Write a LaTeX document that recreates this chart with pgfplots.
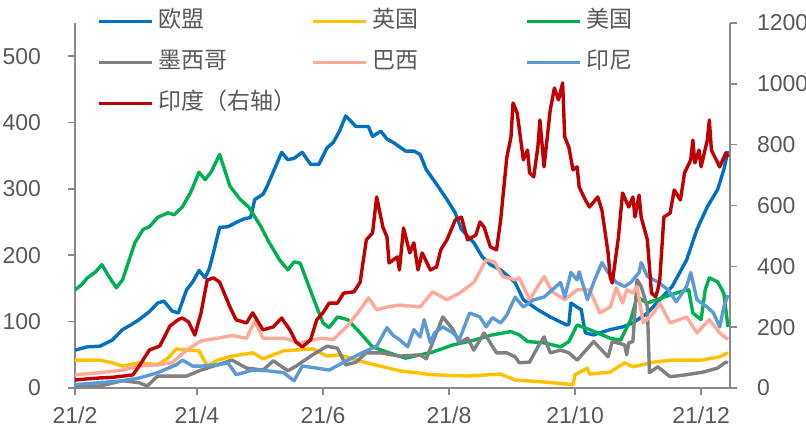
\documentclass[border=0pt]{standalone}
\usepackage{fontspec}
\setmainfont{Liberation Sans}
\newfontfamily\cjk{Noto Sans CJK SC}
\usepackage{pgfplots}
\pgfplotsset{compat=1.18}
\definecolor{eu}{HTML}{0070C0}
\definecolor{uk}{HTML}{FFC000}
\definecolor{us}{HTML}{00B050}
\definecolor{mx}{HTML}{808080}
\definecolor{br}{HTML}{FFAA99}
\definecolor{idn}{HTML}{5B9BD5}
\definecolor{ind}{HTML}{C00000}
\definecolor{axgray}{HTML}{898989}
\definecolor{txt}{HTML}{595959}
\pgfplotsset{
  base/.style={
    scale only axis, width=327.5pt, height=182.5pt,
    xmin=0, xmax=317, ymin=0,
    tick align=outside, major tick length=3.5pt,
    every tick/.style={axgray, line width=0.8pt},
    axis line style={axgray, line width=0.8pt},
    tick label style={font=\fontsize{11.5}{13}\selectfont, text=txt},
    /pgf/number format/assume math mode=true,
    /pgf/number format/1000 sep={},
  },
  ser/.style={line width=1.7pt, line join=round, mark=none},
}
\begin{document}
\begin{tikzpicture}
\begin{axis}[base, ymax=550, ytick={0,100,...,500},
  axis y line*=left, axis x line*=bottom,
  xtick={0,59,120,181,242,303},
  xticklabels={21/2,21/4,21/6,21/8,21/10,21/12},
  xticklabel style={yshift=-2.5pt},
  yticklabel style={xshift=-10pt},
  legend columns=3,
  legend cell align=left,
  legend image code/.code={\draw[#1] (0pt,0pt) -- (26.5pt,0pt);},
  legend style={draw=none, fill=none, at={(0,1)}, anchor=north west,
    xshift=11pt, yshift=6.75pt, inner xsep=0pt, inner ysep=0pt,
    row sep=9pt,
    font=\cjk\fontsize{11.5}{13}\selectfont, text=txt,
    nodes={inner sep=0pt, text height=9pt, text depth=2.5pt},
    /tikz/every odd column/.append style={column sep=2.5pt},
    /tikz/every even column/.append style={column sep=6.3pt}},
]
\addplot[ser, eu] coordinates {(0,57)(6,62)(12,63)(18,72)(23,88)(27,95)(31,103)(36,115)(40,128)(43,131)(47,116)(50,113)(54,148)(57,160)(60,177)(63,166)(65,180)(67,204)(70,242)(74,243)(79,251)(82,255)(85,257)(87,284)(91,292)(93,304)(96,326)(100,355)(103,344)(106,346)(110,355)(114,337)(118,337)(122,362)(125,370)(128,387)(131,410)(136,394)(142,394)(144,379)(148,387)(151,375)(154,370)(160,357)(164,357)(167,352)(170,329)(175,307)(180,284)(184,264)(187,239)(193,219)(197,198)(201,186)(206,178)(213,159)(217,133)(224,118)(230,107)(238,95)(239,96)(240,128)(245,118)(246,100)(247,83)(251,80)(259,88)(265,92)(270,98)(277,113)(283,133)(289,153)(296,193)(301,239)(306,273)(311,299)(314,329)(316,357)};
\addlegendentry{\makebox[70pt][l]{欧盟}}
\addplot[ser, uk] coordinates {(0,42)(12,42)(18,38)(23,33)(31,38)(40,35)(45,45)(49,59)(54,57)(60,56)(64,33)(69,42)(76,48)(86,53)(91,44)(101,56)(115,59)(122,48)(128,50)(141,38)(157,26)(173,20)(190,18)(206,21)(213,12)(227,9)(241,5)(242,20)(248,30)(249,21)(259,24)(266,38)(270,32)(280,39)(289,42)(303,42)(312,47)(316,53)};
\addlegendentry{\makebox[70pt][l]{英国}}
\addplot[ser, us] coordinates {(0,148)(3,155)(6,166)(10,175)(13,186)(16,170)(20,151)(23,163)(29,219)(33,239)(36,243)(40,257)(45,264)(48,261)(52,273)(56,295)(60,325)(63,314)(66,326)(70,352)(75,304)(80,284)(84,273)(90,243)(94,219)(99,193)(103,178)(106,190)(109,188)(112,163)(117,122)(120,98)(123,91)(127,107)(132,103)(138,83)(144,62)(151,54)(160,45)(167,50)(173,54)(183,65)(193,72)(202,80)(211,85)(215,80)(219,70)(227,68)(235,62)(239,70)(243,95)(249,88)(259,75)(264,72)(269,103)(272,137)(277,128)(285,137)(293,145)(297,148)(299,113)(303,103)(305,148)(307,166)(311,160)(314,143)(316,92)};
\addlegendentry{\makebox[70pt][l]{美国}}
\addplot[ser, mx] coordinates {(0,3)(12,3)(23,11)(31,8)(35,3)(40,18)(49,18)(54,18)(61,27)(69,35)(76,42)(83,30)(91,27)(96,41)(103,26)(107,33)(115,50)(122,63)(127,60)(131,35)(136,39)(141,53)(148,53)(157,48)(167,50)(170,44)(173,68)(178,107)(183,88)(186,68)(190,75)(193,57)(198,83)(204,53)(209,53)(213,47)(215,38)(220,39)(224,62)(227,77)(230,53)(235,57)(239,53)(243,42)(251,70)(258,47)(260,70)(266,65)(267,50)(268,68)(270,70)(272,163)(274,153)(277,122)(278,23)(282,32)(288,17)(296,20)(304,24)(311,30)(315,39)(316,38)};
\addlegendentry{\makebox[70pt][l]{墨西哥}}
\addplot[ser, br] coordinates {(0,20)(12,23)(23,27)(31,33)(40,35)(47,38)(54,57)(61,71)(69,75)(76,79)(83,75)(87,101)(91,75)(101,75)(109,68)(119,75)(125,73)(132,94)(138,118)(142,136)(146,118)(151,122)(157,125)(167,122)(173,145)(180,133)(186,143)(193,159)(199,193)(203,190)(207,168)(213,163)(215,166)(220,133)(227,168)(231,145)(237,133)(243,148)(249,148)(254,113)(259,122)(262,151)(265,128)(267,148)(270,143)(272,153)(275,98)(280,113)(283,128)(288,98)(296,107)(301,83)(307,103)(312,83)(316,73)};
\addlegendentry{\makebox[70pt][l]{巴西}}
\addplot[ser, idn] coordinates {(0,5)(12,8)(23,11)(31,15)(40,23)(49,35)(52,42)(57,33)(61,33)(69,35)(74,38)(78,20)(86,27)(93,26)(101,23)(106,11)(110,33)(117,30)(123,27)(132,42)(139,53)(146,63)(151,91)(154,79)(157,73)(161,62)(164,88)(167,77)(169,103)(172,68)(174,83)(178,92)(183,83)(186,73)(191,113)(196,107)(199,92)(202,106)(206,98)(209,110)(213,137)(214,133)(217,122)(222,133)(227,137)(231,148)(235,159)(237,137)(240,174)(243,163)(244,175)(248,133)(251,159)(255,189)(258,174)(262,159)(266,153)(269,159)(273,174)(274,189)(277,168)(282,160)(287,148)(291,130)(296,153)(298,174)(301,133)(306,122)(309,113)(312,92)(314,122)(316,140)};
\addlegendentry{\makebox[70pt][l]{印尼}}
\addlegendimage{ser, ind}
\addlegendentry{\makebox[70pt][l]{印度（右轴）}}
\end{axis}
\begin{axis}[base, ymax=1200, ytick={0,200,...,1200},
  axis y line*=right, axis x line=none,
  yticklabel style={xshift=6.5pt}]
\addplot[ser, ind] coordinates {(0,26)(6,30)(12,33)(18,35)(23,39)(28,43)(31,72)(36,125)(41,138)(46,204)(50,225)(52,230)(55,217)(58,174)(61,247)(64,355)(67,362)(70,348)(75,266)(78,224)(83,214)(86,247)(91,191)(96,201)(100,230)(104,191)(107,151)(110,135)(114,158)(117,224)(120,247)(123,279)(127,279)(130,312)(135,316)(138,348)(141,487)(144,510)(146,628)(149,529)(151,496)(152,411)(156,431)(157,388)(159,526)(162,444)(164,477)(166,388)(168,444)(172,388)(175,398)(177,454)(180,487)(184,552)(187,562)(190,487)(194,503)(196,546)(198,529)(201,464)(204,454)(206,552)(209,759)(211,825)(212,937)(214,904)(217,750)(219,782)(220,707)(222,694)(224,792)(225,881)(227,727)(230,914)(232,986)(234,947)(236,1003)(237,825)(239,792)(241,717)(243,727)(244,661)(247,618)(249,595)(253,628)(255,585)(258,444)(259,365)(260,345)(263,496)(265,641)(268,595)(270,628)(271,562)(273,634)(274,562)(277,487)(279,312)(281,300)(282,322)(283,355)(285,562)(288,575)(290,651)(293,618)(295,707)(298,750)(299,815)(300,740)(302,782)(303,727)(306,815)(307,881)(308,782)(312,727)(315,773)(316,759)};
\end{axis}
\pgfresetboundingbox
\path (-37.5pt,-19pt) rectangle (365.5pt,194pt);
\end{tikzpicture}
\end{document}
